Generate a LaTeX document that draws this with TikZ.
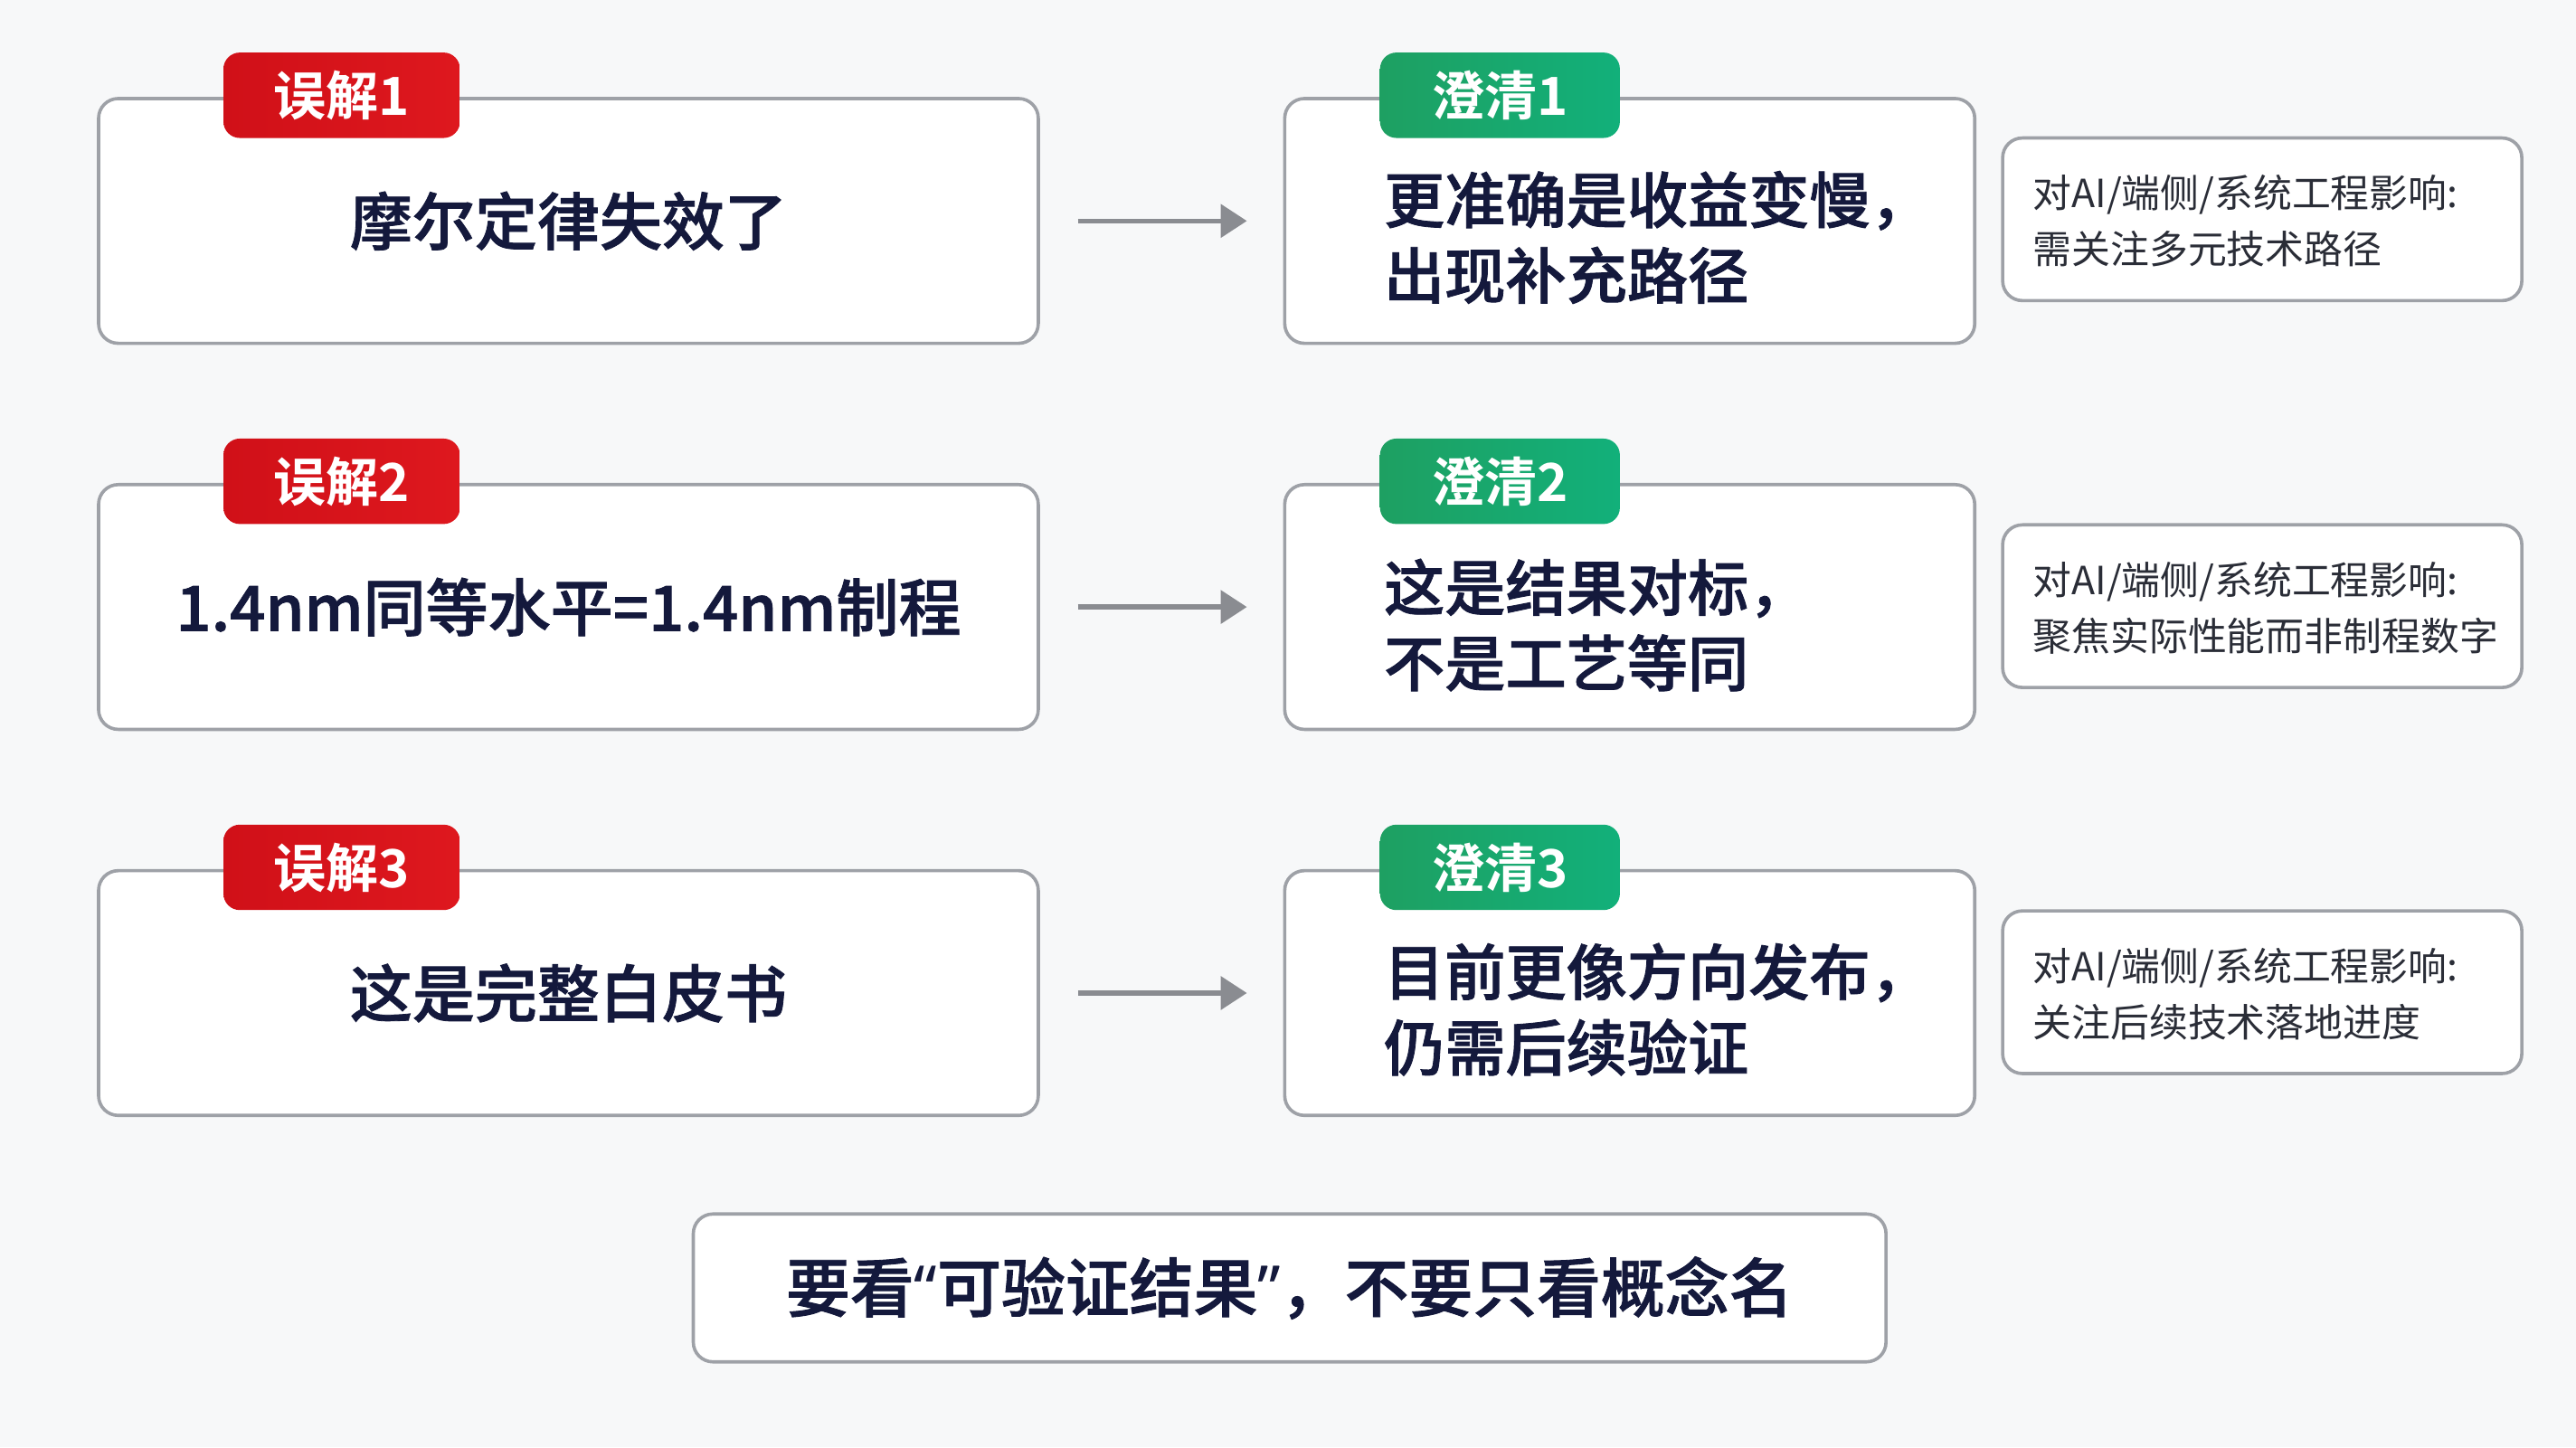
\documentclass[tikz,border=0pt]{standalone}
\usepackage{fontspec}
\setmainfont{Noto Sans CJK SC}[BoldFont={Noto Sans CJK SC Medium},BoldFeatures={FakeBold=1.2}]
\newfontfamily\tagfont{Noto Sans CJK SC Bold}
\newfontfamily\quotefont{Noto Sans}
\usetikzlibrary{arrows.meta,calc}
\definecolor{bg}{RGB}{247,248,249}
\definecolor{navy}{RGB}{20,25,60}
\definecolor{boxgray}{RGB}{158,161,167}
\definecolor{arrgray}{RGB}{138,140,145}
\definecolor{sidegray}{RGB}{42,45,55}
\definecolor{redL}{RGB}{208,16,24}
\definecolor{redR}{RGB}{222,24,30}
\definecolor{greenL}{RGB}{30,160,98}
\definecolor{greenR}{RGB}{18,176,122}
\begin{document}
\begin{tikzpicture}[x=0.5pt,y=-0.5pt,
  mybox/.style={draw=boxgray, line width=1pt, fill=white, rounded corners=6pt, inner sep=0pt},
  leftbox/.style={mybox, minimum width=286pt, minimum height=74.5pt, text=navy, font=\fontsize{19}{23}\selectfont\bfseries},
  midbox/.style={mybox, minimum width=210pt, minimum height=74.5pt},
  sidebox/.style={mybox, minimum width=158pt, minimum height=49.5pt},
  bottombox/.style={mybox, minimum width=363pt, minimum height=45pt, text=navy, font=\fontsize{19.5}{23}\selectfont\bfseries},
  tagbox/.style={rounded corners=5pt, minimum width=72pt, minimum height=26pt, inner sep=0pt, text=white, font=\fontsize{16}{16}\selectfont\tagfont},
  redtag/.style={tagbox, left color=redL, right color=redR},
  greentag/.style={tagbox, minimum width=73pt, left color=greenL, right color=greenR},
  midtext/.style={anchor=west, align=left, inner sep=0pt, text=navy, font=\fontsize{18.5}{23}\selectfont\bfseries},
  sidetext/.style={anchor=west, align=left, inner sep=0pt, text=sidegray, font=\fontsize{11.8}{17}\selectfont},
  arr/.style={draw=arrgray, line width=1.5pt, -{Triangle[length=8pt,width=10pt]}, shorten <=11.5pt, shorten >=11pt}
]
\fill[bg] (0,0) rectangle (1568,881);
\useasboundingbox (0,0) rectangle (1568,881);

% row 1
\node[leftbox] (m1) at (346,134.5) {摩尔定律失效了};
\node[midbox] (c1) at (992,134.5) {};
\node[sidebox] (s1) at (1377,133.5) {};
\node[redtag] (r1) at (208,58) {误解1};
\node[greentag] (g1) at (913,58) {澄清1};
\node[midtext] (ct1) at ($(c1.west)+(61,10)$) {更准确是收益变慢，\\出现补充路径};
\node[sidetext] (st1) at ($(s1.west)+(19,1)$) {对AI/端侧/系统工程影响:\\需关注多元技术路径};
\draw[arr] (m1) -- (c1);

% row 2
\node[leftbox] (m2) at (346,369.5) {1.4nm同等水平=1.4nm制程};
\node[midbox] (c2) at (992,369.5) {};
\node[sidebox] (s2) at (1377,369) {};
\node[redtag] (r2) at (208,293) {误解2};
\node[greentag] (g2) at (913,293) {澄清2};
\node[midtext] (ct2) at ($(c2.west)+(61,11)$) {这是结果对标，\\不是工艺等同};
\node[sidetext] (st2) at ($(s2.west)+(19,1)$) {对AI/端侧/系统工程影响:\\聚焦实际性能而非制程数字};
\draw[arr] (m2) -- (c2);

% row 3
\node[leftbox] (m3) at (346,604.5) {这是完整白皮书};
\node[midbox] (c3) at (992,604.5) {};
\node[sidebox] (s3) at (1377,604) {};
\node[redtag] (r3) at (208,528) {误解3};
\node[greentag] (g3) at (913,528) {澄清3};
\node[midtext] (ct3) at ($(c3.west)+(61,10)$) {目前更像方向发布，\\仍需后续验证};
\node[sidetext] (st3) at ($(s3.west)+(19,1)$) {对AI/端侧/系统工程影响:\\关注后续技术落地进度};
\draw[arr] (m3) -- (c3);

% bottom
\node[bottombox] (b) at (785,784) {要看{\quotefont\bfseries “}可验证结果{\quotefont\bfseries ”}，不要只看概念名};
\end{tikzpicture}
\end{document}
